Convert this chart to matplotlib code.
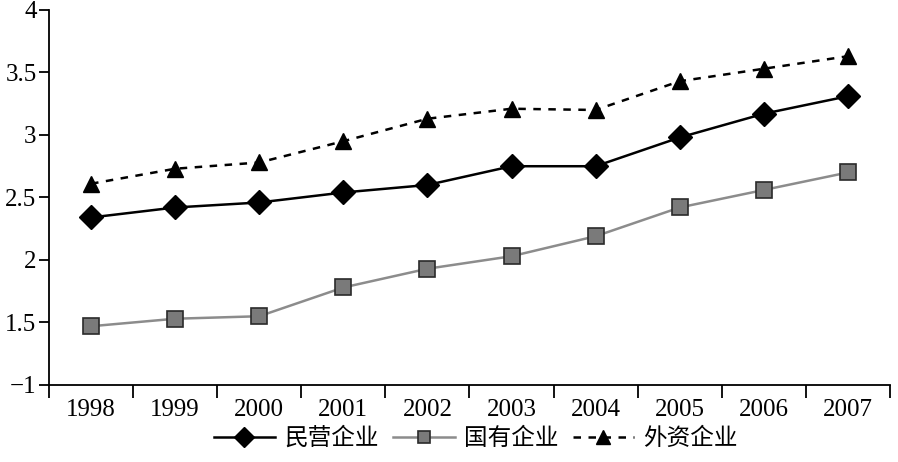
import matplotlib
matplotlib.use("Agg")
import matplotlib.pyplot as plt
import numpy as np

# data
years = ["1998", "1999", "2000", "2001", "2002", "2003", "2004", "2005", "2006", "2007"]
private = [2.34, 2.42, 2.46, 2.54, 2.60, 2.75, 2.75, 2.98, 3.17, 3.31]
state = [1.47, 1.53, 1.55, 1.78, 1.93, 2.03, 2.19, 2.42, 2.56, 2.70]
foreign = [2.61, 2.73, 2.78, 2.95, 3.13, 3.21, 3.20, 3.43, 3.53, 3.63]
names = ["民营企业", "国有企业", "外资企业"]
ytick_vals = [1, 1.5, 2, 2.5, 3, 3.5, 4]
ytick_labels = ["\u22121", "1.5", "2", "2.5", "3", "3.5", "4"]

plt.rcParams["font.family"] = ["Liberation Serif", "DejaVu Serif"]
plt.rcParams["font.size"] = 18

fig = plt.figure(figsize=(8.98, 4.62), dpi=100)
ax = fig.add_axes([0.0546, 0.1667, 0.9364, 0.8117])

x = np.arange(len(years))
ax.plot(x, private, "-", color="black", lw=1.8, marker="D", ms=12,
        mfc="black", mec="black", label=names[0])
ax.plot(x, state, "-", color="#8c8c8c", lw=1.8, marker="s", ms=11,
        mfc="#7a7a7a", mec="#2a2a2a", mew=1.2, label=names[1])
ax.plot(x, foreign, "--", color="black", lw=1.8, dashes=(3, 3), marker="^", ms=12,
        mfc="black", mec="black", label=names[2])

ax.set_xlim(-0.5, len(years) - 0.5)
ax.set_ylim(1, 4)
ax.set_xticks(np.arange(-0.5, len(years), 1.0))
ax.set_xticklabels([])
ax.set_xticks(x, minor=True)
ax.set_xticklabels(years, minor=True)
ax.tick_params(axis="x", which="minor", length=0, pad=10, labelsize=18)
ax.tick_params(axis="x", which="major", length=9, width=1.3, direction="out")
ax.set_yticks(ytick_vals)
ax.set_yticklabels(ytick_labels)
ax.tick_params(axis="y", length=7, width=1.3, pad=2, labelsize=18)

ax.spines["top"].set_visible(False)
ax.spines["right"].set_visible(False)
ax.spines["left"].set_linewidth(1.3)
ax.spines["bottom"].set_linewidth(1.3)

fig.legend(loc="lower center", bbox_to_anchor=(0.53, -0.02), ncol=3, frameon=False,
           prop={"family": ["Noto Sans CJK SC", "DejaVu Sans"], "size": 17},
           handlelength=2.6, handletextpad=0.4, columnspacing=0.6, markerscale=0.85)

fig.savefig("out.png", dpi=100)
